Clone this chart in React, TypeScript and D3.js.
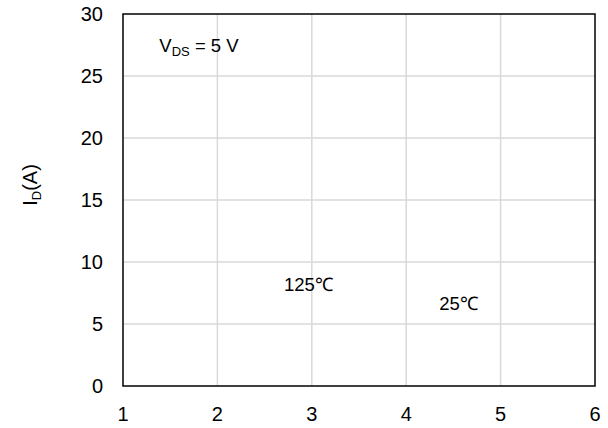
import React from "react";
import * as d3 from "d3";

const xTicks = [1, 2, 3, 4, 5, 6];
const yTicks = [0, 5, 10, 15, 20, 25, 30];
const xDomain: [number, number] = [1, 6];
const yDomain: [number, number] = [0, 30];
const tempLabels = [
  { text: "125℃", x: 2.705, y: 7.7 },
  { text: "25℃", x: 4.35, y: 6.1 },
];
const conditionLabel = { main: "V", sub: "DS", rest: " = 5 V", x: 1.385, y: 26.9 };

export default function App() {
  const W = 608, H = 428;
  const m = { left: 123, right: 13, top: 14, bottom: 42 };
  const x = d3.scaleLinear().domain(xDomain).range([m.left, W - m.right]);
  const y = d3.scaleLinear().domain(yDomain).range([H - m.bottom, m.top]);
  const font = "Liberation Sans, Arial, sans-serif";
  return (
    <svg width={W} height={H} style={{ position: "absolute", left: 0, top: 0 }} fontFamily={font}>
      <rect width={W} height={H} fill="#fff" />
      {xTicks.slice(1, -1).map((t) => (
        <line key={"gx" + t} x1={x(t)} x2={x(t)} y1={y(30)} y2={y(0)} stroke="#d9d9d9" strokeWidth={1.5} />
      ))}
      {yTicks.slice(1, -1).map((t) => (
        <line key={"gy" + t} x1={x(1)} x2={x(6)} y1={y(t)} y2={y(t)} stroke="#d9d9d9" strokeWidth={1.5} />
      ))}
      <rect x={x(1)} y={y(30)} width={x(6) - x(1)} height={y(0) - y(30)} fill="none" stroke="#000" strokeWidth={1.5} />
      {xTicks.map((t) => (
        <text key={"tx" + t} x={x(t)} y={y(0) + 35} textAnchor="middle" fontSize={20} fill="#000">{t}</text>
      ))}
      {yTicks.map((t) => (
        <text key={"ty" + t} x={x(1) - 20} y={y(t) + 7} textAnchor="end" fontSize={20} fill="#000">{t}</text>
      ))}
      <text transform={`translate(37,${y(15) - 15}) rotate(-90)`} textAnchor="middle" fontSize={20} fill="#000">
        I<tspan fontSize={13} dy={4}>D</tspan><tspan dy={-4}>(A)</tspan>
      </text>
      <text x={x(conditionLabel.x)} y={y(conditionLabel.y)} fontSize={18.5} fill="#000">
        {conditionLabel.main}<tspan fontSize={13} dy={4}>{conditionLabel.sub}</tspan><tspan dy={-4}>{conditionLabel.rest}</tspan>
      </text>
      {tempLabels.map((l) => (
        <text key={l.text} x={x(l.x)} y={y(l.y)} fontSize={18.5} fill="#000">{l.text}</text>
      ))}
    </svg>
  );
}
